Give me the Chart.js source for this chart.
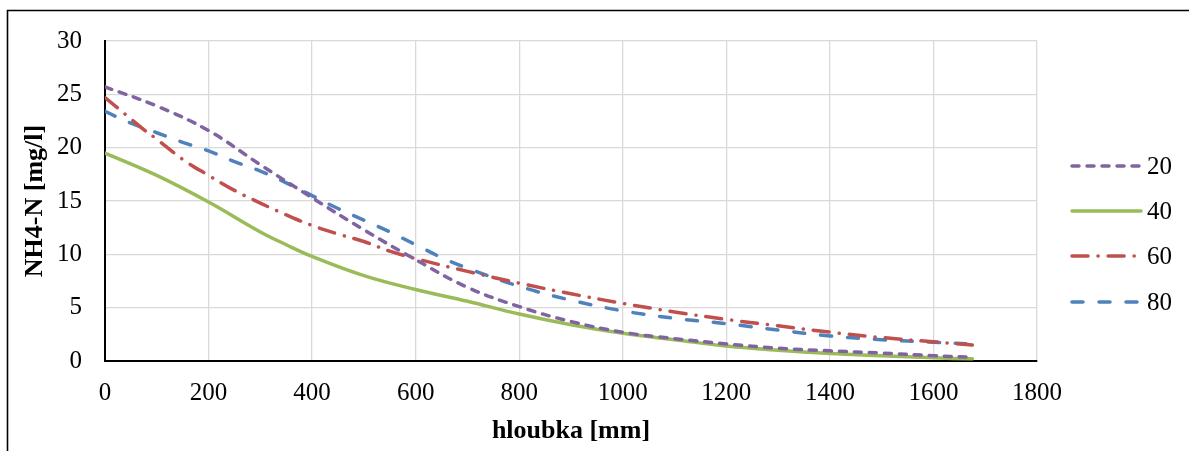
<!DOCTYPE html>
<html lang="cs">
<head>
    <meta charset="UTF-8" />
    <title>NH4-N vs hloubka</title>
    <script src="https://cdn.jsdelivr.net/npm/chart.js"></script>
    <style>
        html, body {
            margin: 0;
            padding: 0;
            background: #fff;
        }

        #wrap {
            width: 1189px;
            height: 451px;
        }
    </style>
</head>
<body>
    <div id="wrap"><canvas id="chart" width="1189" height="451"></canvas></div>

    <script>
        // hloubka [mm] + NH4-N [mg/l]
        const depth20 = [0, 100, 200, 300, 400, 500, 600, 700, 800, 900, 1000, 1100, 1200, 1300, 1400, 1500, 1600, 1675];
        const nh20 = [25.7, 23.9, 21.6, 18.4, 15.3, 12.3, 9.5, 6.9, 5.1, 3.7, 2.7, 2.1, 1.6, 1.2, 0.95, 0.75, 0.5, 0.35];

        const depth40 = [0, 100, 200, 300, 350, 400, 500, 600, 700, 800, 900, 1000, 1100, 1200, 1300, 1400, 1500, 1600, 1675];
        const nh40 = [19.5, 17.4, 14.9, 12.1, 10.9, 9.8, 8.0, 6.7, 5.6, 4.4, 3.4, 2.6, 2.0, 1.4, 1.0, 0.7, 0.5, 0.3, 0.2];

        const depth60 = [0, 40, 75, 100, 150, 200, 250, 300, 350, 400, 450, 500, 550, 600, 700, 800, 900, 1000, 1100, 1200, 1300, 1400, 1500, 1600, 1675];
        const nh60 = [24.7, 23.1, 21.7, 20.8, 18.9, 17.4, 16.0, 14.8, 13.7, 12.7, 11.9, 11.2, 10.3, 9.6, 8.4, 7.3, 6.3, 5.4, 4.6, 3.9, 3.3, 2.7, 2.2, 1.8, 1.5];

        const depth80 = [0, 50, 100, 150, 200, 250, 300, 350, 400, 450, 500, 550, 600, 650, 700, 800, 900, 1000, 1100, 1200, 1300, 1400, 1500, 1600, 1675];
        const nh80 = [23.4, 22.3, 21.4, 20.5, 19.7, 18.7, 17.8, 16.7, 15.5, 14.3, 13.2, 12.1, 10.9, 9.7, 8.7, 7.0, 5.7, 4.7, 4.0, 3.5, 2.9, 2.35, 2.0, 1.75, 1.6];

        const seriesNames = ['20', '40', '60', '80'];
        const xTicks = [0, 200, 400, 600, 800, 1000, 1200, 1400, 1600, 1800];
        const yTicks = [0, 5, 10, 15, 20, 25, 30];

        const FONT = '"Liberation Serif", "Times New Roman", serif';

        function points(xs, ys) {
            return xs.map((x, i) => ({ x: x, y: ys[i] }));
        }

        const styles = [
            { color: '#8064A2', dash: [7, 8] },
            { color: '#9BBB59', dash: [] },
            { color: '#C0504D', dash: [16, 10, 0.1, 10] },
            { color: '#4F81BD', dash: [11, 16] }
        ];
        const allData = [points(depth20, nh20), points(depth40, nh40), points(depth60, nh60), points(depth80, nh80)];

        const datasets = seriesNames.map((name, i) => ({
            label: name,
            data: allData[i],
            borderColor: styles[i].color,
            backgroundColor: styles[i].color,
            borderDash: styles[i].dash,
            borderCapStyle: 'round',
            borderWidth: 3.5,
            pointRadius: 0,
            tension: 0.4,
            fill: false
        }));

        // ramecek + legenda vpravo
        const decor = {
            id: 'decor',
            beforeDraw(chart) {
                const ctx = chart.ctx;
                ctx.save();
                ctx.strokeStyle = '#000';
                ctx.lineWidth = 1.6;
                ctx.beginPath();
                ctx.moveTo(7.5, 452);
                ctx.lineTo(7.5, 10.5);
                ctx.lineTo(1190, 10.5);
                ctx.stroke();
                ctx.restore();
            },
            afterDraw(chart) {
                const ctx = chart.ctx;
                const rows = [166, 211, 256, 302];
                ctx.save();
                chart.data.datasets.forEach((ds, i) => {
                    const y = rows[i];
                    ctx.strokeStyle = ds.borderColor;
                    ctx.lineWidth = 3.5;
                    ctx.lineCap = 'round';
                    ctx.setLineDash(ds.borderDash);
                    ctx.beginPath();
                    ctx.moveTo(1072, y);
                    ctx.lineTo(1141, y);
                    ctx.stroke();
                    ctx.setLineDash([]);
                    ctx.fillStyle = '#000';
                    ctx.font = '25px ' + FONT;
                    ctx.textBaseline = 'middle';
                    ctx.textAlign = 'left';
                    ctx.fillText(ds.label, 1147, y + 1);
                });
                ctx.restore();
            }
        };

        new Chart(document.getElementById('chart'), {
            type: 'line',
            data: { datasets: datasets },
            plugins: [decor],
            options: {
                responsive: false,
                animation: false,
                layout: { padding: { left: 0, right: 152, top: 41, bottom: 0 } },
                plugins: {
                    legend: { display: false },
                    tooltip: { enabled: false }
                },
                scales: {
                    x: {
                        type: 'linear',
                        min: 0,
                        max: 1800,
                        afterBuildTicks(axis) { axis.ticks = xTicks.map(v => ({ value: v })); },
                        afterFit(axis) { axis.height = 90; },
                        ticks: {
                            color: '#000',
                            font: { family: FONT, size: 25 },
                            padding: 17,
                            maxRotation: 0,
                            callback: v => String(v)
                        },
                        grid: { color: '#d9d9d9', lineWidth: 1.3, drawTicks: false },
                        border: { color: '#000', width: 2 },
                        title: {
                            display: true,
                            text: 'hloubka [mm]',
                            color: '#000',
                            font: { family: FONT, size: 26, weight: 'bold' },
                            padding: { top: 0, bottom: 4 }
                        }
                    },
                    y: {
                        min: 0,
                        max: 30,
                        afterBuildTicks(axis) { axis.ticks = yTicks.map(v => ({ value: v })); },
                        afterFit(axis) { axis.width = 105; },
                        ticks: {
                            color: '#000',
                            font: { family: FONT, size: 25 },
                            padding: 23,
                            callback: v => String(v)
                        },
                        grid: { color: '#d9d9d9', lineWidth: 1.3, drawTicks: false },
                        border: { color: '#000', width: 2 },
                        title: {
                            display: true,
                            text: 'NH4-N [mg/l]',
                            color: '#000',
                            font: { family: FONT, size: 26, weight: 'bold' },
                            padding: { top: 20, bottom: 0 }
                        }
                    }
                }
            }
        });
    </script>
</body>
</html>
